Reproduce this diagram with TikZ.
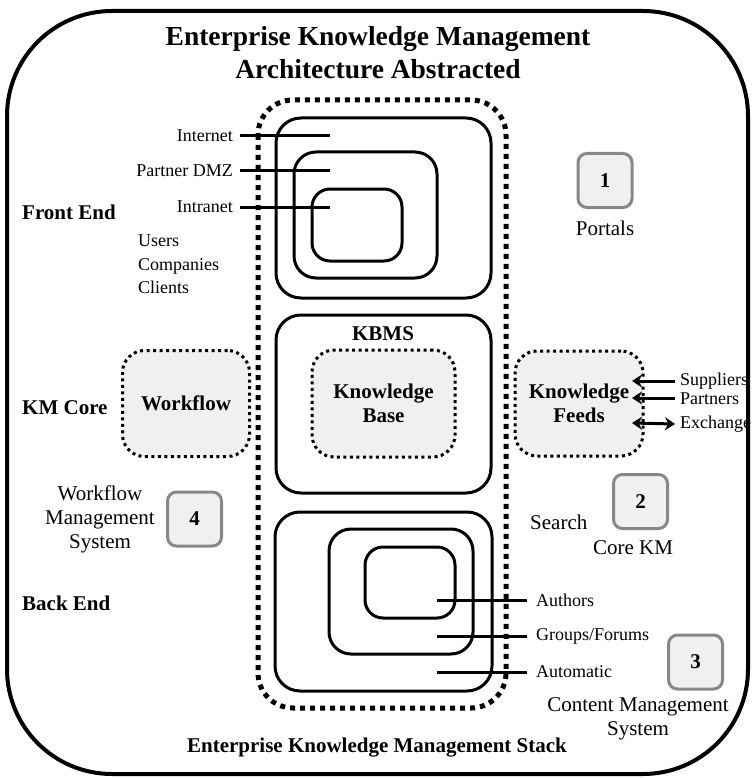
\documentclass[tikz,border=0pt]{standalone}
\usepackage{fontspec}
\setmainfont{Liberation Serif}
\usetikzlibrary{arrows.meta}
\definecolor{boxfill}{HTML}{F0F0F0}
\definecolor{numborder}{HTML}{888888}
\tikzset{
  big/.style={font=\fontsize{21}{24}\selectfont},
  bigb/.style={font=\fontsize{21}{24}\selectfont\bfseries},
  small/.style={font=\fontsize{18}{23.5}\selectfont},
  solidbox/.style={draw, line width=3pt, rounded corners=#1, inner sep=0pt},
  dotbox/.style={draw, line width=3pt, dash pattern=on 3pt off 3.5pt, fill=boxfill, rounded corners=22pt, inner sep=0pt, minimum width=127pt, minimum height=106pt, align=center, bigb},
  numbox/.style={draw=numborder, line width=3pt, fill=boxfill, rounded corners=9pt, minimum width=54pt, minimum height=54pt, inner sep=0pt, bigb},
  conn/.style={line width=3pt},
  feedarrow/.style={line width=3pt, -{Stealth[length=10pt,width=13pt]}},
  lbl/.style={inner sep=0pt},
}
\begin{document}
\begin{tikzpicture}[x=1pt,y=-1pt]
\useasboundingbox (0,0) rectangle (752,778);
% outer frame
\draw[line width=4pt, rounded corners=105pt] (7,11) rectangle (748,774);
% title
\node[lbl, align=center, font=\fontsize{27.5}{33}\selectfont\bfseries] (title) at (378,53) {Enterprise Knowledge Management\\Architecture Abstracted};
% stack (dotted)
\draw[line width=5pt, dash pattern=on 5pt off 5pt, rounded corners=35pt] (258,100) rectangle (506,708);
% front end rings
\node[solidbox=25pt, minimum width=215pt, minimum height=180pt] (feOuter) at (383.5,208) {};
\node[solidbox=22pt, minimum width=143pt, minimum height=126pt] (feMid) at (365.5,215) {};
\node[solidbox=18pt, minimum width=90pt, minimum height=72pt] (feInner) at (357,225) {};
% front end labels and lines
\node[lbl, small, anchor=east] (lInternet) at (233,136) {Internet};
\node[lbl, small, anchor=east] (lPartner) at (233,171) {Partner DMZ};
\node[lbl, small, anchor=east] (lIntranet) at (233,207) {Intranet};
\coordinate (eInternet) at (330,136);
\coordinate (ePartner) at (330,171);
\coordinate (eIntranet) at (330,207);
\draw[conn] ([xshift=7pt]lInternet.east) -- (eInternet);
\draw[conn] ([xshift=7pt]lPartner.east) -- (ePartner);
\draw[conn] ([xshift=7pt]lIntranet.east) -- (eIntranet);
\node[lbl, small, anchor=north west, align=left] (users) at (138,235) {Users\\Companies\\Clients};
% section labels
\node[lbl, bigb, anchor=west] (frontend) at (22,212) {Front End};
\node[lbl, bigb, anchor=west] (kmcore) at (22,408) {KM Core};
\node[lbl, bigb, anchor=west] (backend) at (22,603) {Back End};
% KBMS
\node[solidbox=25pt, minimum width=215pt, minimum height=178pt] (kbms) at (383.5,404) {};
\node[lbl, bigb] (kbmsl) at (383,334) {KBMS};
\node[dotbox, minimum width=143pt, minimum height=107pt] (kb) at (383.5,403.5) {Knowledge\\Base};
\node[dotbox] (workflow) at (186,403.5) {Workflow};
\node[dotbox, minimum width=128pt, minimum height=105pt] (feeds) at (579,403.5) {Knowledge\\Feeds};
% feed arrows
\node[lbl, small, anchor=west] (lSup) at (680,381) {Suppliers};
\node[lbl, small, anchor=west] (lPar) at (680,399) {Partners};
\node[lbl, small, anchor=west] (lExc) at (680,424) {Exchange};
\coordinate (aSup) at (632,381);
\coordinate (aPar) at (632,398);
\coordinate (aExc) at (632,423);
\draw[feedarrow] ([xshift=-5pt]lSup.west) -- (aSup);
\draw[feedarrow] ([xshift=-5pt]lPar.west |- aPar) -- (aPar);
\draw[feedarrow, {Stealth[length=10pt,width=13pt]}-{Stealth[length=10pt,width=13pt]}] (aExc) -- ([xshift=-5pt]lExc.west);
% back end rings
\node[solidbox=25pt, minimum width=217pt, minimum height=179pt] (beOuter) at (383.5,601.5) {};
\node[solidbox=22pt, minimum width=144pt, minimum height=125pt] (beMid) at (401,591.5) {};
\node[solidbox=18pt, minimum width=90pt, minimum height=71pt] (beInner) at (410,582.5) {};
\node[lbl, small, anchor=west] (lAuthors) at (536,600) {Authors};
\node[lbl, small, anchor=west] (lGroups) at (536,636) {Groups/Forums};
\node[lbl, small, anchor=west] (lAuto) at (536,672) {Automatic};
\coordinate (sAuthors) at (437,600);
\coordinate (sGroups) at (437,636);
\coordinate (sAuto) at (437,672);
\draw[conn] (sAuthors) -- ([xshift=-9pt]lAuthors.west);
\draw[conn] (sGroups) -- ([xshift=-9pt]lGroups.west);
\draw[conn] (sAuto) -- ([xshift=-9pt]lAuto.west);
% numbered boxes
\node[numbox] (n1) at (605,180.5) {1};
\node[lbl, big] (portals) at (605,228) {Portals};
\node[numbox] (n2) at (640.5,501.5) {2};
\node[lbl, big, anchor=west] (search) at (530,522) {Search};
\node[lbl, big] (corekm) at (633,548) {Core KM};
\node[numbox] (n3) at (695.5,662) {3};
\node[lbl, big, align=center] (cms) at (638,719) {Content Management\\System};
\node[numbox] (n4) at (194.5,519) {4};
\node[lbl, big, align=center] (wms) at (100,519) {Workflow\\Management\\System};
% stack label
\node[lbl, bigb] (stack) at (377,748) {Enterprise Knowledge Management Stack};
\end{tikzpicture}
\end{document}
